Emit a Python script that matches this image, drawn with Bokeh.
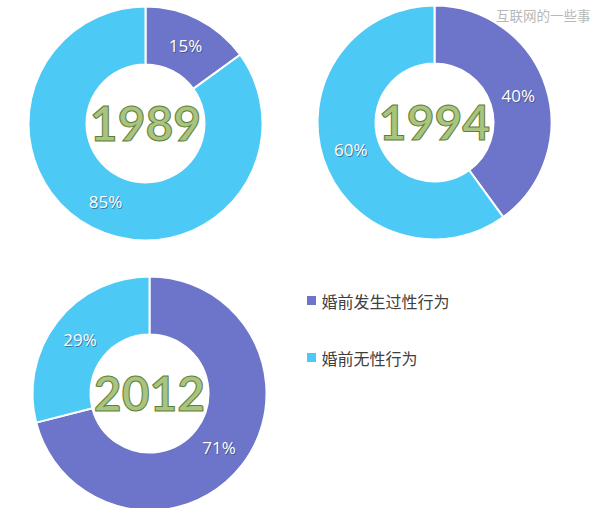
import math
from bokeh.plotting import figure
from bokeh.models import Range1d, ColumnDataSource
from bokeh.core.properties import value
from bokeh.embed import file_html
from bokeh.resources import INLINE

# ---- data ----
years = ["1989", "1994", "2012"]
categories = ["婚前发生过性行为", "婚前无性行为"]
premarital_yes = [15, 40, 71]
premarital_no = [85, 60, 29]
colors = ["#6C75C9", "#4DC9F6"]
watermark = "互联网的一些事"

# ---- layout (reference-pixel coordinates, y measured downward) ----
centers = [(145, 123), (434, 122), (149, 393)]
r_in, r_out = 59, 117
H = 516

p = figure(width=592, height=508, output_backend="svg", toolbar_location=None,
           x_range=Range1d(0, 592), y_range=Range1d(H - 508, H),
           min_border=0, outline_line_color=None)
p.axis.visible = False
p.grid.visible = False
p.background_fill_color = "white"
p.border_fill_color = "white"

wx, wy, ws, we, wc = [], [], [], [], []
lx, ly, lt = [], [], []
for i, (cx, cy) in enumerate(centers):
    vals = [premarital_yes[i], premarital_no[i]]
    start = 90.0
    for j, v in enumerate(vals):
        end = start - v * 3.6
        wx.append(cx); wy.append(H - cy)
        ws.append(math.radians(start)); we.append(math.radians(end))
        wc.append(colors[j])
        mid = math.radians((start + end) / 2)
        rm = (r_in + r_out) / 2
        lx.append(cx + rm * math.cos(mid)); ly.append(H - cy + rm * math.sin(mid))
        lt.append(f"{v}%")
        start = end

src = ColumnDataSource(dict(x=wx, y=wy, s=ws, e=we, c=wc))
p.annular_wedge(x="x", y="y", inner_radius=r_in, outer_radius=r_out,
                start_angle="s", end_angle="e", direction="clock",
                fill_color="c", line_color="white", line_width=2, source=src)

# percentage labels
p.text(x=[v + 1 for v in lx], y=[v - 1 for v in ly], text=lt,
       text_font=value("Open Sans"), text_font_size="17px",
       text_color="#3a3f60", text_alpha=0.6,
       text_align="center", text_baseline="middle")
p.text(x=lx, y=ly, text=lt, text_font=value("Open Sans"), text_font_size="17px",
       text_color="white", text_align="center", text_baseline="middle")

# year labels in the holes
p.text(x=[c[0] for c in centers], y=[H - c[1] for c in centers], text=years,
       text_font=value("Lato"), text_font_style="bold", text_font_size="48px",
       text_color="#A9C47F", text_outline_color="#5F7F38",
       text_align="center", text_baseline="middle")

# legend
leg_y = [300, 357]
p.scatter(x=[311, 311], y=[H - v for v in leg_y], marker="square", size=9,
          fill_color=colors, line_color=None)
p.text(x=[321, 321], y=[H - v for v in leg_y], text=categories,
       text_font=value("Noto Sans CJK SC"), text_font_size="16px",
       text_color="#404040", text_align="left", text_baseline="middle")

# watermark
p.text(x=[590], y=[H - 14], text=[watermark],
       text_font=value("Noto Sans CJK SC"), text_font_size="13.5px",
       text_color="#B8B8B8", text_align="right", text_baseline="middle")

open("out.html", "w").write(file_html(p, INLINE))
